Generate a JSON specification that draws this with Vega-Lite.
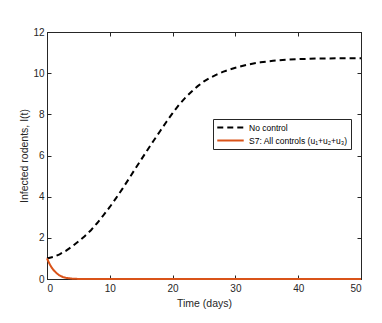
{
  "$schema": "https://vega.github.io/schema/vega-lite/v6.json",
  "width": 314,
  "height": 247,
  "autosize": {"type": "none"},
  "padding": {"left": 47, "top": 32, "right": 21, "bottom": 44},
  "background": "white",
  "config": {
    "view": {"stroke": "#262626", "strokeWidth": 1},
    "font": "Liberation Sans",
    "axis": {
      "domainColor": "#262626",
      "tickColor": "#262626",
      "labelColor": "#262626",
      "titleColor": "#262626",
      "labelFont": "Liberation Sans",
      "titleFont": "Liberation Sans",
      "labelFontSize": 10,
      "titleFontSize": 10.5,
      "titleFontWeight": "normal",
      "grid": false,
      "tickSize": -4
    }
  },
  "data": {
    "values": [
      {"t": 0, "v": 1.0, "s": "No control"},
      {"t": 1, "v": 1.07, "s": "No control"},
      {"t": 2, "v": 1.2, "s": "No control"},
      {"t": 3, "v": 1.37, "s": "No control"},
      {"t": 4, "v": 1.58, "s": "No control"},
      {"t": 5, "v": 1.82, "s": "No control"},
      {"t": 6, "v": 2.08, "s": "No control"},
      {"t": 7, "v": 2.37, "s": "No control"},
      {"t": 8, "v": 2.72, "s": "No control"},
      {"t": 9, "v": 3.1, "s": "No control"},
      {"t": 10, "v": 3.5, "s": "No control"},
      {"t": 11, "v": 3.93, "s": "No control"},
      {"t": 12, "v": 4.38, "s": "No control"},
      {"t": 13, "v": 4.85, "s": "No control"},
      {"t": 14, "v": 5.33, "s": "No control"},
      {"t": 15, "v": 5.8, "s": "No control"},
      {"t": 16, "v": 6.27, "s": "No control"},
      {"t": 17, "v": 6.73, "s": "No control"},
      {"t": 18, "v": 7.18, "s": "No control"},
      {"t": 19, "v": 7.63, "s": "No control"},
      {"t": 20, "v": 8.06, "s": "No control"},
      {"t": 21, "v": 8.46, "s": "No control"},
      {"t": 22, "v": 8.8, "s": "No control"},
      {"t": 23, "v": 9.1, "s": "No control"},
      {"t": 24, "v": 9.37, "s": "No control"},
      {"t": 25, "v": 9.6, "s": "No control"},
      {"t": 26, "v": 9.78, "s": "No control"},
      {"t": 27, "v": 9.93, "s": "No control"},
      {"t": 28, "v": 10.06, "s": "No control"},
      {"t": 29, "v": 10.17, "s": "No control"},
      {"t": 30, "v": 10.26, "s": "No control"},
      {"t": 32, "v": 10.42, "s": "No control"},
      {"t": 34, "v": 10.53, "s": "No control"},
      {"t": 36, "v": 10.6, "s": "No control"},
      {"t": 38, "v": 10.65, "s": "No control"},
      {"t": 40, "v": 10.68, "s": "No control"},
      {"t": 43, "v": 10.71, "s": "No control"},
      {"t": 46, "v": 10.72, "s": "No control"},
      {"t": 50, "v": 10.73, "s": "No control"},
      {"t": 0, "v": 1.0, "s": "S7: All controls (u₁+u₂+u₃)"},
      {"t": 0.25, "v": 0.83, "s": "S7: All controls (u₁+u₂+u₃)"},
      {"t": 0.5, "v": 0.68, "s": "S7: All controls (u₁+u₂+u₃)"},
      {"t": 0.75, "v": 0.55, "s": "S7: All controls (u₁+u₂+u₃)"},
      {"t": 1, "v": 0.45, "s": "S7: All controls (u₁+u₂+u₃)"},
      {"t": 1.5, "v": 0.29, "s": "S7: All controls (u₁+u₂+u₃)"},
      {"t": 2, "v": 0.17, "s": "S7: All controls (u₁+u₂+u₃)"},
      {"t": 2.5, "v": 0.1, "s": "S7: All controls (u₁+u₂+u₃)"},
      {"t": 3, "v": 0.055, "s": "S7: All controls (u₁+u₂+u₃)"},
      {"t": 4, "v": 0.015, "s": "S7: All controls (u₁+u₂+u₃)"},
      {"t": 5, "v": 0.004, "s": "S7: All controls (u₁+u₂+u₃)"},
      {"t": 10, "v": 0, "s": "S7: All controls (u₁+u₂+u₃)"},
      {"t": 50, "v": 0, "s": "S7: All controls (u₁+u₂+u₃)"}
    ]
  },
  "layer": [
    {
      "mark": {"type": "line", "strokeWidth": 2},
      "encoding": {
        "x": {
          "field": "t", "type": "quantitative",
          "scale": {"domain": [0, 50], "nice": false},
          "axis": {"title": "Time (days)", "values": [0, 10, 20, 30, 40, 50], "labelPadding": 8, "titlePadding": 5}
        },
        "y": {
          "field": "v", "type": "quantitative",
          "scale": {"domain": [0, 12], "nice": false},
          "axis": {"title": "Infected rodents, I(t)", "values": [0, 2, 4, 6, 8, 10, 12], "labelPadding": 7, "titlePadding": 3}
        },
        "color": {
          "field": "s", "type": "nominal",
          "scale": {"domain": ["No control", "S7: All controls (u₁+u₂+u₃)"], "range": ["#000000", "#D95319"]},
          "legend": {
            "title": null, "orient": "none", "legendX": 166, "legendY": 87,
            "strokeColor": "#262626", "fillColor": "white", "padding": 3,
            "symbolType": "stroke", "symbolSize": 700, "symbolStrokeWidth": 2,
            "labelFontSize": 8.5, "labelColor": "#000000", "rowPadding": 2, "labelOffset": 4,
            "clipHeight": 11
          }
        },
        "strokeDash": {
          "field": "s", "type": "nominal",
          "scale": {"domain": ["No control", "S7: All controls (u₁+u₂+u₃)"], "range": [[6, 4], [1, 0]]},
          "legend": {
            "title": null, "orient": "none", "legendX": 166, "legendY": 87,
            "strokeColor": "#262626", "fillColor": "white", "padding": 3,
            "symbolType": "stroke", "symbolSize": 700, "symbolStrokeWidth": 2,
            "labelFontSize": 8.5, "labelColor": "#000000", "rowPadding": 2, "labelOffset": 4,
            "clipHeight": 11
          }
        }
      }
    },
    {
      "mark": {"type": "line", "opacity": 0},
      "encoding": {
        "x": {
          "field": "t", "type": "quantitative",
          "scale": {"domain": [0, 50], "nice": false},
          "axis": {"orient": "top", "title": null, "labels": false, "values": [0, 10, 20, 30, 40, 50]}
        },
        "y": {
          "field": "v", "type": "quantitative",
          "scale": {"domain": [0, 12], "nice": false},
          "axis": {"orient": "right", "title": null, "labels": false, "values": [0, 2, 4, 6, 8, 10, 12]}
        }
      }
    }
  ],
  "resolve": {"axis": {"x": "independent", "y": "independent"}}
}
